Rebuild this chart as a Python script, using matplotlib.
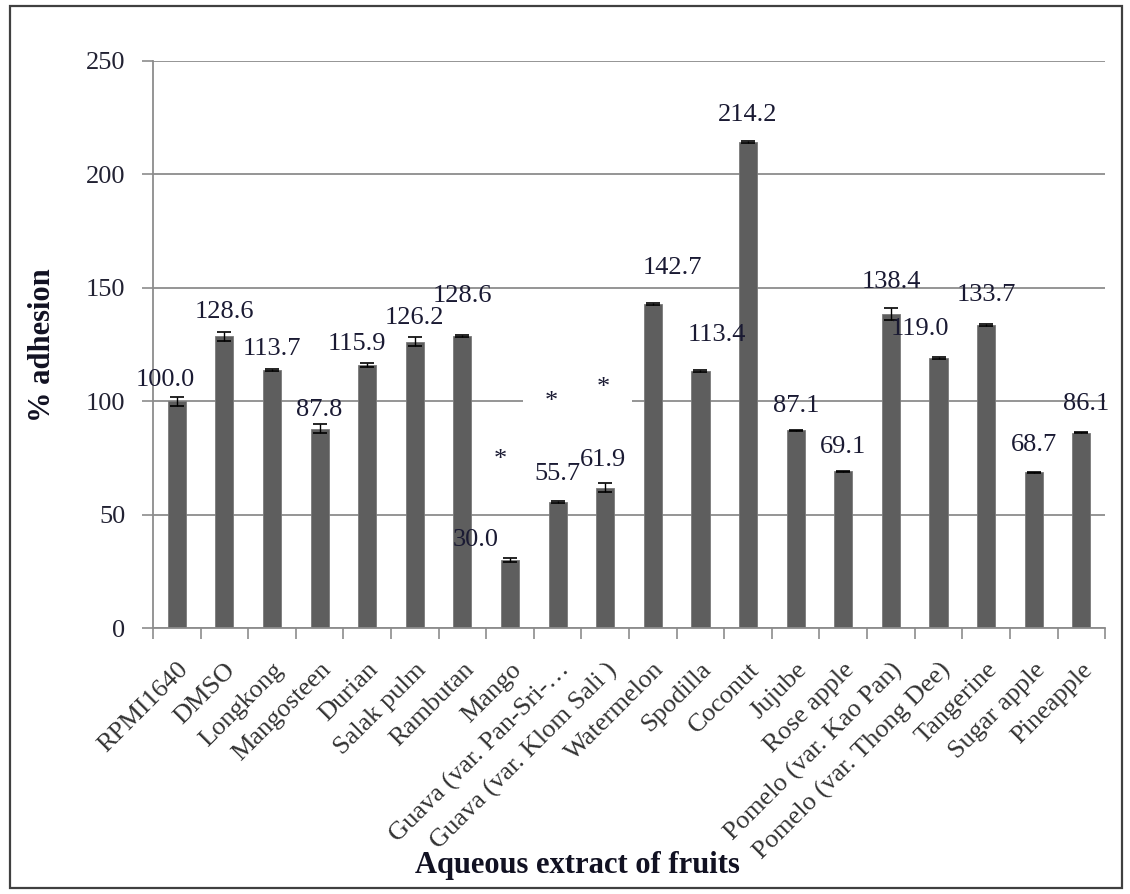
import numpy as np
import matplotlib.pyplot as plt
from matplotlib.patches import Rectangle

plt.rcParams['font.family'] = ['Liberation Serif', 'DejaVu Serif']

# Data
fruits = ['RPMI1640', 'DMSO', 'Longkong', 'Mangosteen', 'Durian', 'Salak pulm',
          'Rambutan', 'Mango', 'Guava (var. Pan-Sri-\u2026', 'Guava (var. Klom Sali )',
          'Watermelon', 'Spodilla', 'Coconut', 'Jujube', 'Rose apple',
          'Pomelo (var. Kao Pan)', 'Pomelo (var. Thong Dee)', 'Tangerine',
          'Sugar apple', 'Pineapple']
adhesion = [100.0, 128.6, 113.7, 87.8, 115.9, 126.2, 128.6, 30.0, 55.7, 61.9,
            142.7, 113.4, 214.2, 87.1, 69.1, 138.4, 119.0, 133.7, 68.7, 86.1]
errors = [2.0, 2.0, 0.5, 2.0, 0.8, 2.0, 0.5, 0.8, 0.5, 2.0,
          0.5, 0.5, 0.5, 0.3, 0.3, 2.5, 0.3, 0.5, 0.3, 0.3]
significant = ['Mango', 'Guava (var. Pan-Sri-\u2026', 'Guava (var. Klom Sali )']

# label placement tweaks (Excel put them a bit all over the place)
label_dx = [-0.25, 0, 0, 0, -0.22, 0, 0, -0.72, 0, -0.05,
            0.42, 0.34, 0, 0, 0, 0, -0.4, 0, 0, 0.1]
label_dy = [9.3, 10.7, 9.3, 8.3, 9.3, 10.5, 18, 8.8, 12.2, 12.2,
            16, 16, 12, 11, 10.7, 14, 13, 13, 12, 12.7]
star_dx = {'Mango': -0.2, 'Guava (var. Pan-Sri-\u2026': -0.14, 'Guava (var. Klom Sali )': -0.03}

fig = plt.figure(figsize=(11.3, 8.94), dpi=100)
ax = fig.add_axes([0.1354, 0.2975, 0.8426, 0.6343])

# frame around the whole chart
fig.patches.append(Rectangle((10 / 1130, 6 / 894), 1112 / 1130, 882 / 894,
                             transform=fig.transFigure, fill=False,
                             edgecolor='#404040', linewidth=1.6))

x = np.arange(len(fruits))
ax.bar(x, adhesion, width=0.38, color='#5e5e5e', edgecolor='#7a7a7a',
       linewidth=0.6, zorder=2)
ax.errorbar(x, adhesion, yerr=errors, fmt='none', ecolor='black',
            elinewidth=1, capsize=5, capthick=1.2, zorder=3)

for i, v in enumerate(adhesion):
    ax.text(x[i] + label_dx[i], v + label_dy[i], f'{v:.1f}', ha='center',
            va='center', fontsize=19, color='#1a1a33', zorder=4)

for name in significant:
    i = fruits.index(name)
    ax.text(x[i] + star_dx[name], adhesion[i] + 44, '*', ha='center', va='center',
            fontsize=19, color='#1a1a33', zorder=4,
            bbox=dict(boxstyle='square,pad=0.8', facecolor='white', edgecolor='none'))

ax.set_xlim(-0.5, len(fruits) - 0.5)
ax.set_ylim(0, 250)
ax.set_yticks(range(0, 251, 50))
ax.tick_params(axis='y', labelsize=19, length=8, width=1.2, color='#8c8c8c',
               pad=12, labelcolor='#222233')
ax.yaxis.grid(True, color='#8c8c8c', linewidth=1.3, zorder=0)
ax.set_axisbelow(True)

ax.set_xticks(x)
ax.set_xticklabels(fruits, rotation=45, ha='right', rotation_mode='anchor',
                   fontsize=19, color='#333333')
ax.tick_params(axis='x', length=0, pad=22)
ax.set_xticks(np.arange(-0.5, len(fruits)), minor=True)
ax.tick_params(axis='x', which='minor', length=8, width=1.2, color='#8c8c8c')

for side in ['top', 'right']:
    ax.spines[side].set_visible(False)
for side in ['left', 'bottom']:
    ax.spines[side].set_color('#8c8c8c')
    ax.spines[side].set_linewidth(1.3)

fig.text(43 / 1130, 1 - 345 / 894, '% adhesion', rotation=90, ha='center',
         va='center', fontsize=22, fontweight='bold', color='#111122')
fig.text(577 / 1130, 1 - 865 / 894, 'Aqueous extract of fruits', ha='center',
         va='center', fontsize=22, fontweight='bold', color='#111122', zorder=5)

fig.savefig('out.png', dpi=100)
